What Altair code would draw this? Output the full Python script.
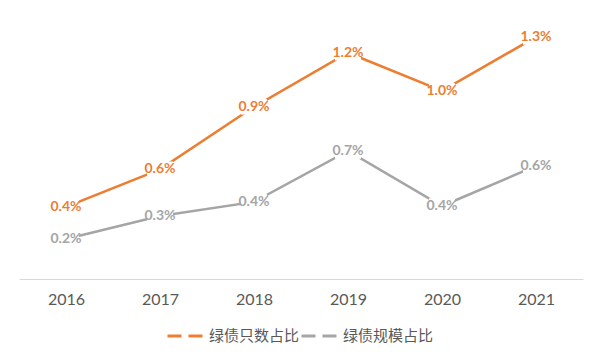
import altair as alt
import pandas as pd

years = ["2016", "2017", "2018", "2019", "2020", "2021"]
series_names = ["绿债只数占比", "绿债规模占比"]
count_share = [0.00385, 0.00586, 0.00920, 0.01209, 0.01005, 0.01294]
scale_share = [0.00214, 0.00337, 0.00412, 0.00684, 0.00390, 0.00604]
colors = ["#ED7D31", "#A5A5A5"]

rows = []
for y, v in zip(years, count_share):
    rows.append({"year": y, "series": series_names[0], "value": v})
for y, v in zip(years, scale_share):
    rows.append({"year": y, "series": series_names[1], "value": v})
df = pd.DataFrame(rows)

x_enc = alt.X("year:N", axis=alt.Axis(title=None, labelAngle=0, domainColor="#D9D9D9",
                                      ticks=False, labelFont="Lato", labelFontSize=16,
                                      labelColor="#595959", labelPadding=12),
              scale=alt.Scale(padding=0.5), sort=years)
y_enc = alt.Y("value:Q", axis=None, scale=alt.Scale(domain=[0, 0.014], nice=False, zero=True))
color_enc = alt.Color("series:N", scale=alt.Scale(domain=series_names, range=colors),
                      sort=series_names,
                      legend=alt.Legend(title=None, orient="none", direction="horizontal",
                                        legendX=147, legendY=300,
                                        symbolType="stroke", symbolSize=1225,
                                        symbolStrokeWidth=3, symbolDash=[14, 7],
                                        labelFont="Noto Sans CJK SC", labelFontSize=15,
                                        labelColor="#595959", labelOffset=5,
                                        columnPadding=-6))

base = alt.Chart(df).encode(x=x_enc, y=y_enc)

lines = base.mark_line(strokeWidth=2.5).encode(color=color_enc)
boxes = base.mark_point(filled=True, fill="white", opacity=1, strokeWidth=0,
                        shape="M-1,-0.6L1,-0.6L1,0.6L-1,0.6Z", size=676)
labels = base.mark_text(font="Lato", fontSize=14, fontWeight="bold", baseline="middle",
                        align="center").encode(
    text=alt.Text("value:Q", format=".1%"),
    color=alt.Color("series:N", scale=alt.Scale(domain=series_names, range=colors), legend=None))

chart = alt.layer(lines, boxes, labels).properties(
    width=564, height=262,
    autosize=alt.AutoSizeParams(type="none"),
    padding={"left": 11, "top": 9, "right": 11, "bottom": 75},
).configure_view(stroke=None)

chart.save("out.html", embed_options={"renderer": "svg", "actions": False})
